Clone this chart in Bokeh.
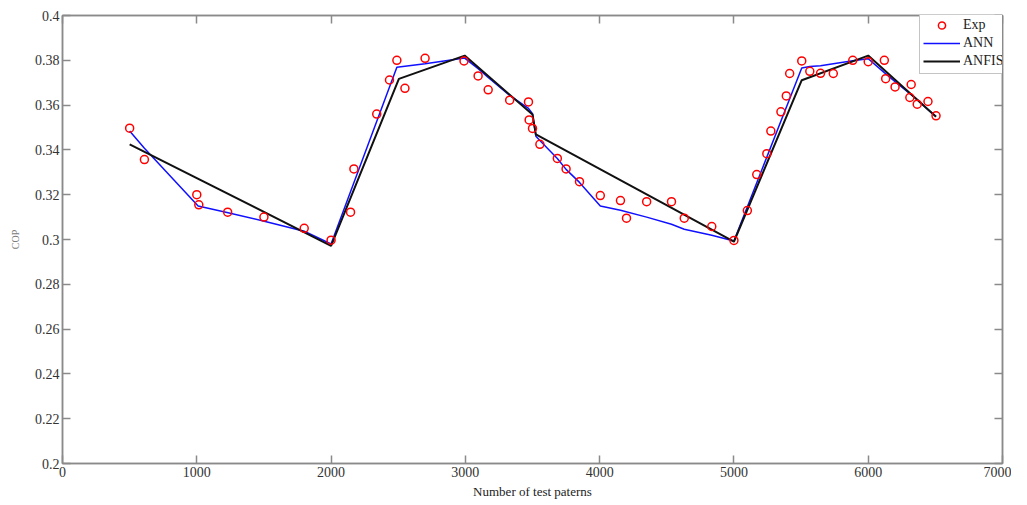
from bokeh.plotting import figure
from bokeh.models import (Range1d, FixedTicker, CustomJSTickFormatter, LinearAxis,
                          Legend, LegendItem)
from bokeh.embed import file_html
from bokeh.resources import INLINE

# ---------------- data ----------------
exp_x = [500, 610, 1000, 1015, 1230, 1500, 1800, 2000, 2145, 2170,
         2340, 2435, 2490, 2550, 2700, 2990, 3095, 3170, 3330, 3470,
         3475, 3500, 3555, 3685, 3750, 3850, 4005, 4155, 4200, 4350,
         4535, 4630, 4835, 5000, 5100, 5170, 5245, 5275, 5350, 5390,
         5415, 5505, 5565, 5645, 5740, 5885, 6000, 6120, 6130, 6200,
         6320, 6310, 6365, 6445, 6505]
exp_y = [0.3497, 0.3357, 0.3200, 0.3155, 0.3122, 0.3100, 0.3050, 0.2997, 0.3122, 0.3315,
         0.3560, 0.3712, 0.3800, 0.3675, 0.3809, 0.3797, 0.3730, 0.3668, 0.3622, 0.3614,
         0.3534, 0.3496, 0.3425, 0.3362, 0.3315, 0.3258, 0.3196, 0.3174, 0.3095, 0.3169,
         0.3169, 0.3095, 0.3058, 0.2996, 0.3129, 0.3290, 0.3383, 0.3484, 0.3570, 0.3641,
         0.3741, 0.3797, 0.3751, 0.3742, 0.3741, 0.3800, 0.3794, 0.3800, 0.3718, 0.3681,
         0.3692, 0.3634, 0.3604, 0.3616, 0.3552]

ann_x = [500, 610, 1010, 1225, 1495, 1800, 2000, 2490, 2700, 2995,
         3095, 3170, 3330, 3470, 3500, 3525, 3555, 3685, 3750, 3850,
         4005, 4155, 4350, 4535, 4630, 4835, 5000, 5505, 5565, 5645,
         5740, 5885, 6000, 6120, 6200, 6320, 6365, 6445, 6505]
ann_y = [0.3484, 0.3407, 0.3150, 0.3121, 0.3083, 0.3037, 0.2980, 0.3769, 0.3785, 0.3810,
         0.3763, 0.3723, 0.3643, 0.3585, 0.3562, 0.3461, 0.3442, 0.3362, 0.3313, 0.3255,
         0.3150, 0.3131, 0.3100, 0.3068, 0.3046, 0.3019, 0.2993, 0.3766, 0.3772, 0.3776,
         0.3785, 0.3798, 0.3807, 0.3745, 0.3705, 0.3647, 0.3625, 0.3580, 0.3550]

anfis_x = [500, 2000, 2505, 2995, 3500, 3525, 5000, 5505, 6000, 6505]
anfis_y = [0.3425, 0.2972, 0.3717, 0.3821, 0.3558, 0.3469, 0.2990, 0.3711, 0.3821, 0.3548]

x_ticks = [0, 1000, 2000, 3000, 4000, 5000, 6000, 7000]
y_ticks = [0.20, 0.22, 0.24, 0.26, 0.28, 0.30, 0.32, 0.34, 0.36, 0.38, 0.40]

FONT = "Liberation Serif"
GRAY = "#8a8a8a"

p = figure(width=1011, height=501, output_backend="svg", toolbar_location=None,
           x_range=Range1d(0, 7000), y_range=Range1d(0.2, 0.4),
           min_border_left=62, min_border_right=9, min_border_top=15,
           min_border_bottom=28)
p.background_fill_color = "white"
p.border_fill_color = "white"
p.outline_line_color = GRAY
p.outline_line_width = 1.5
p.xgrid.visible = False
p.ygrid.visible = False

for ax in p.xaxis + p.yaxis:
    ax.axis_line_color = GRAY
    ax.axis_line_width = 1.5
    ax.major_tick_line_color = GRAY
    ax.major_tick_line_width = 1.5
    ax.major_tick_in = 8
    ax.major_tick_out = 0
    ax.minor_tick_line_color = None
    ax.major_label_text_font = FONT
    ax.major_label_text_font_size = "14px"
    ax.major_label_text_color = "#333333"
    ax.axis_label_text_font = FONT
    ax.axis_label_text_font_style = "normal"

p.xaxis.ticker = FixedTicker(ticks=x_ticks)
p.yaxis.ticker = FixedTicker(ticks=y_ticks)
p.yaxis.formatter = CustomJSTickFormatter(code="return tick.toFixed(2).replace(/0$/, '');")
p.xaxis.major_label_standoff = 3
p.yaxis.major_label_standoff = 3

p.xaxis.axis_label = "Number of test paterns"
p.xaxis.axis_label_text_font_size = "13px"
p.xaxis.axis_label_text_color = "#222222"
p.xaxis.axis_label_standoff = 4

p.yaxis.axis_label = "COP"
p.yaxis.axis_label_text_font_size = "10px"
p.yaxis.axis_label_text_color = "#7a7a7a"
p.yaxis.axis_label_standoff = 11

# top and right axes: ticks only
for loc, tk in (("above", x_ticks), ("right", y_ticks)):
    a = LinearAxis(ticker=FixedTicker(ticks=tk),
                   formatter=CustomJSTickFormatter(code="return '';"))
    a.axis_line_color = GRAY
    a.axis_line_width = 1.5
    a.major_tick_line_color = GRAY
    a.major_tick_line_width = 1.5
    a.major_tick_in = 8
    a.major_tick_out = 0
    a.minor_tick_line_color = None
    a.major_label_standoff = 0
    a.major_label_text_font_size = "1px"
    p.add_layout(a, loc)

r_ann = p.line(ann_x, ann_y, line_color="#1010ff", line_width=1.5)
r_anfis = p.line(anfis_x, anfis_y, line_color="#111111", line_width=2)
r_exp = p.scatter(exp_x, exp_y, marker="circle", size=8, fill_color=None,
                  line_color="#ff0000", line_width=1.5)

legend = Legend(items=[LegendItem(label="Exp", renderers=[r_exp]),
                       LegendItem(label="ANN", renderers=[r_ann]),
                       LegendItem(label="ANFIS", renderers=[r_anfis])],
                location=(857, 389), margin=0, padding=3, spacing=0,
                glyph_width=37, glyph_height=18, label_height=18,
                label_width=42, label_standoff=3, label_text_font=FONT,
                label_text_font_size="14px", label_text_color="#222222",
                border_line_color=GRAY, border_line_width=1.5,
                background_fill_color="white", background_fill_alpha=1.0)
p.add_layout(legend, "center")

open("out.html", "w").write(file_html(p, INLINE))
